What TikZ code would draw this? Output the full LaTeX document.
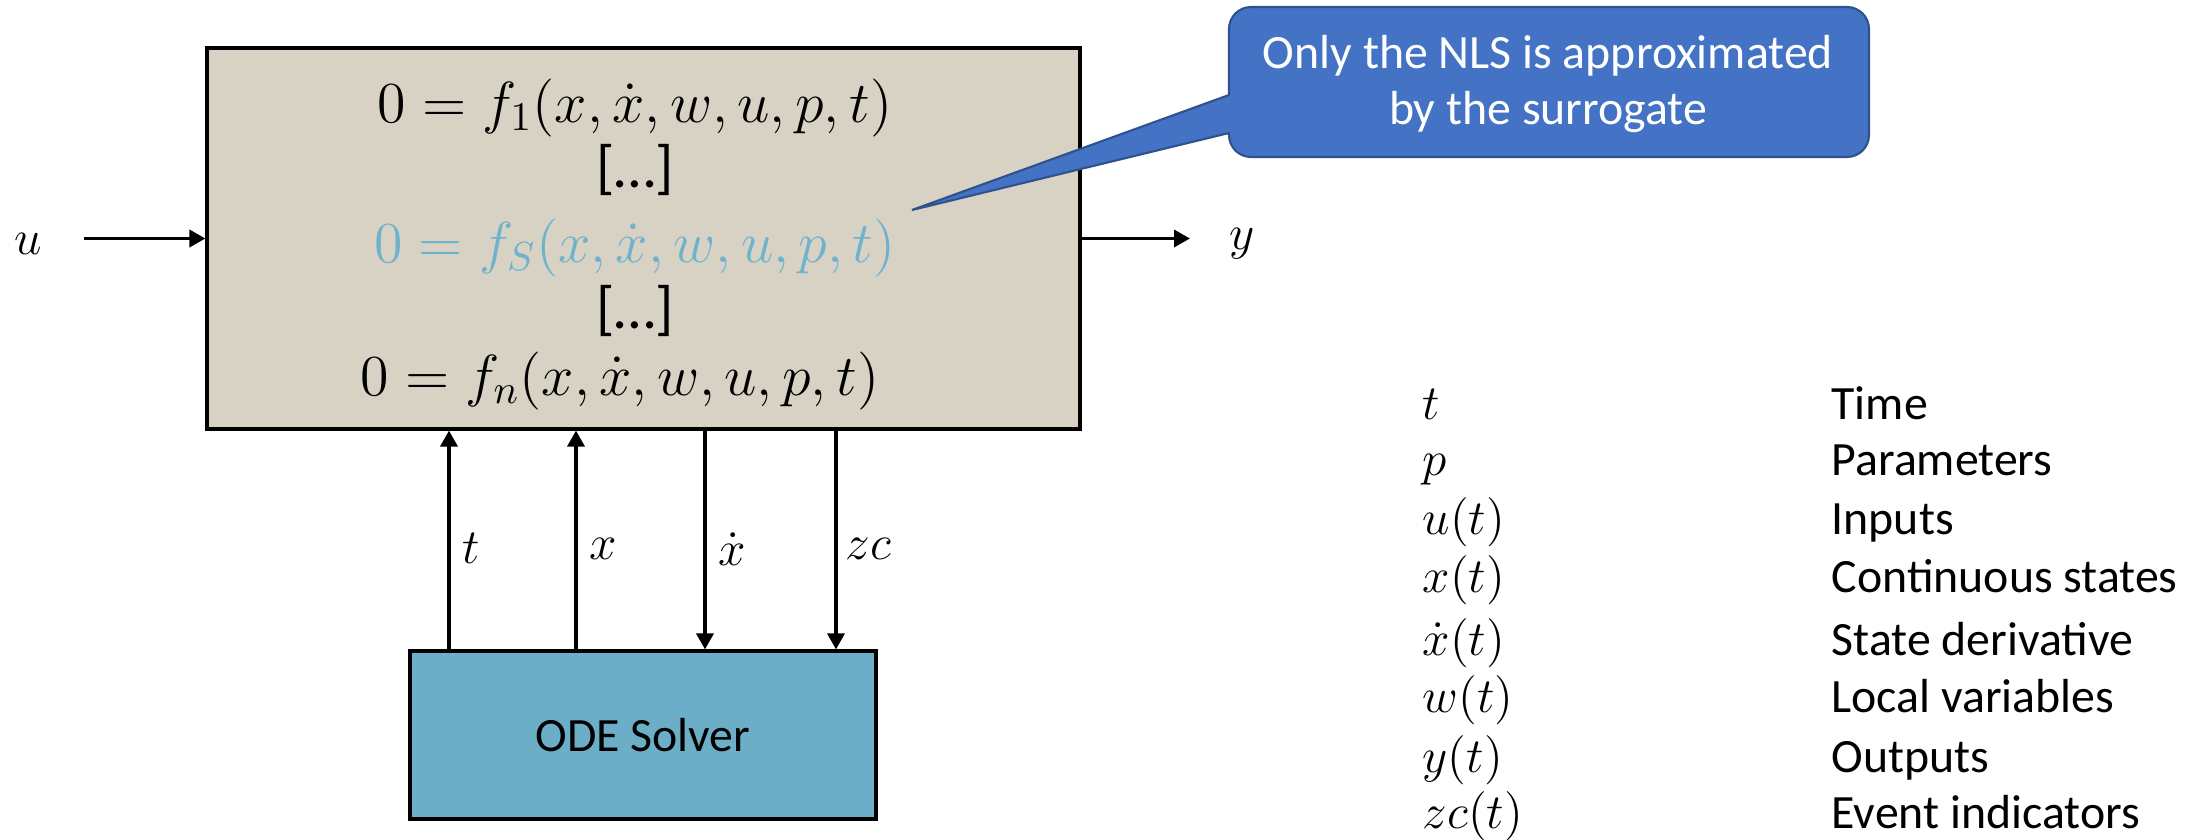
\documentclass[tikz,border=0pt]{standalone}
\usepackage{fix-cm}
\usepackage[no-math]{fontspec}
\setmainfont{Carlito}
\usetikzlibrary{arrows.meta,positioning,calc}
\definecolor{boxtan}{RGB}{216,210,196}
\definecolor{solverblue}{RGB}{108,174,199}
\definecolor{nlsblue}{RGB}{110,178,206}
\definecolor{noteblue}{RGB}{68,114,196}
\definecolor{noteedge}{RGB}{47,82,143}
\tikzset{
  blockbox/.style={draw,line width=0.9pt,inner sep=0pt},
  eqline/.style={anchor=base,inner sep=0pt,font=\fontsize{16.5}{19}\selectfont},
  sig/.style={line width=1pt,-{Triangle[length=0.16cm,width=0.17cm]}},
  siglabel/.style={font=\fontsize{14}{16}\selectfont},
  legsym/.style={anchor=base west,font=\fontsize{14}{16}\selectfont,inner sep=0pt},
  legtext/.style={anchor=base west,font=\fontsize{13.6}{16}\selectfont,inner sep=0pt},
  notetext/.style={align=center,text=white,font=\fontsize{13.6}{16}\selectfont},
}
\begin{document}
\begin{tikzpicture}
\useasboundingbox (0,0) rectangle (22.04,8.39);
% model block
\node[blockbox,fill=boxtan,minimum width=8.73cm,minimum height=3.81cm] (dae) at (6.435,6.005) {};
\node[eqline] (eq1) at (6.35,7.17) {$0=f_1(x,\dot{x},w,u,p,t)$};
\node[eqline,font=\fontsize{17}{19}\selectfont] (dots1) at (6.35,6.52) {[…]};
\node[eqline,text=nlsblue] (eqs) at (6.35,5.77) {$0=f_S(x,\dot{x},w,u,p,t)$};
\node[eqline,font=\fontsize{17}{19}\selectfont] (dots2) at (6.35,5.11) {[…]};
\node[eqline] (eqn) at (6.20,4.44) {$0=f_n(x,\dot{x},w,u,p,t)$};
% solver
\node[blockbox,fill=solverblue,minimum width=4.66cm,minimum height=1.68cm,font=\fontsize{13.6}{16}\selectfont] (ode) at (6.43,1.04) {ODE Solver};
% input and output
\node[siglabel] (u) at (0.28,5.95) {$u$};
\coordinate (uin) at (0.84,6.005);
\draw[sig] (uin) -- (dae.west);
\node[siglabel] (y) at (12.42,5.95) {$y$};
\coordinate (yout) at (11.90,6.005);
\draw[sig] (dae.east) -- (yout);
% solver signals
\foreach \name/\xx in {tin/4.49,xin/5.76,dxout/7.05,zcout/8.36}
  \coordinate (\name) at (\xx,0);
\draw[sig] (tin |- ode.north) -- (tin |- dae.south) node[siglabel,pos=0.46,right] {$t$};
\draw[sig] (xin |- ode.north) -- (xin |- dae.south) node[siglabel,pos=0.46,right] {$x$};
\draw[sig] (dxout |- dae.south) -- (dxout |- ode.north) node[siglabel,pos=0.54,right] {$\dot{x}$};
\draw[sig] (zcout |- dae.south) -- (zcout |- ode.north) node[siglabel,pos=0.54,right=-1pt] {$zc$};
% callout
\coordinate (tip) at (9.12,6.29);
\draw[noteedge,fill=noteblue,line width=0.6pt] (tip) -- (12.29,7.44) [rounded corners=0.22cm] -- (12.29,8.32) -- (18.69,8.32) -- (18.69,6.82) -- (12.29,6.82) [sharp corners] -- (12.29,7.06) -- cycle;
\node[notetext] (note) at (15.48,7.55) {Only the NLS is approximated\\by the surrogate};
% legend
\foreach \sym/\txt/\yy [count=\i] in {{$t$}/Time/4.20,{$p$}/Parameters/3.64,{$u(t)$}/Inputs/3.05,{$x(t)$}/Continuous states/2.47,{$\dot{x}(t)$}/State derivative/1.84,{$w(t)$}/Local variables/1.27,{$y(t)$}/Outputs/0.67,{$zc(t)$}/Event indicators/0.11}{
  \node[legsym] (sym\i) at (14.22,\yy) {\sym};
  \node[legtext] (txt\i) at (18.31,\yy) {\txt};
}
\end{tikzpicture}
\end{document}
